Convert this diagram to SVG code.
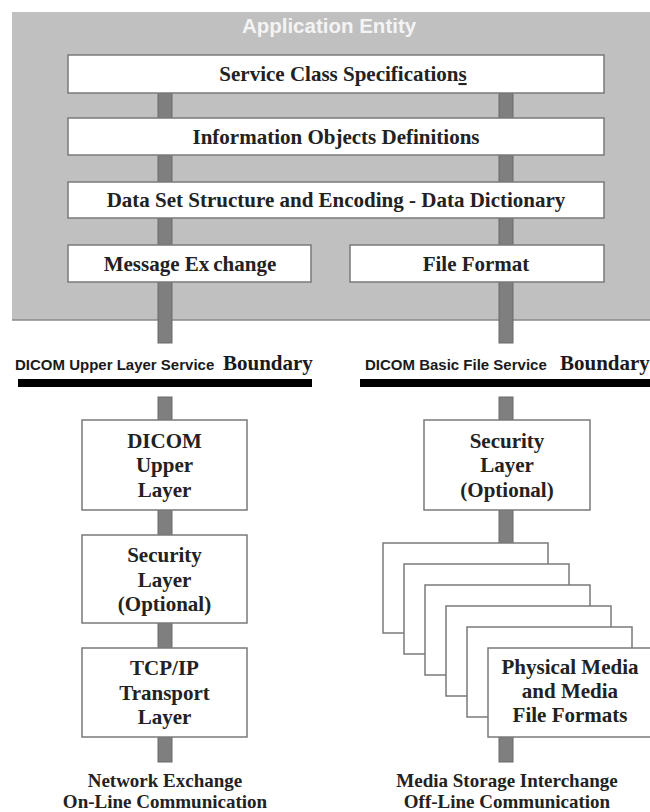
<svg xmlns="http://www.w3.org/2000/svg" width="650" height="812" viewBox="0 0 650 812">
<style>
.bg{fill:#c0c0c0}
.box{fill:#ffffff;stroke:#7a7a7a;stroke-width:1.5}
.bar{fill:#7f7f7f;stroke:#6a6a6a;stroke-width:1}
.t{font-family:"Liberation Serif","Times New Roman",serif;font-weight:bold;font-size:21px;fill:#222;text-anchor:middle}
.b{font-family:"Liberation Serif","Times New Roman",serif;font-weight:bold;font-size:19px;fill:#222;text-anchor:middle}
.s{font-family:"Liberation Sans",Arial,sans-serif;font-weight:bold;font-size:15px;fill:#1a1a1a}
.bd{font-family:"Liberation Serif","Times New Roman",serif;font-weight:bold;font-size:21px;fill:#1a1a1a}
.ae{font-family:"Liberation Sans",Arial,sans-serif;font-weight:bold;font-size:20.5px;fill:#f4f4f4;text-anchor:middle}
.line{fill:#000}
</style>
<rect width="650" height="812" fill="#ffffff"/>
<g id="application-entity">
<rect class="bg" x="12" y="12" width="638" height="308"/>
<line x1="12" y1="320" x2="650" y2="320" stroke="#8a8a8a" stroke-width="1.5"/>
<text class="ae" x="329" y="33">Application Entity</text>
</g>
<g id="connectors">
<rect class="bar" x="158" y="93" width="14" height="250"/>
<rect class="bar" x="499" y="93" width="14" height="250"/>
<rect class="bar" x="158" y="397" width="14" height="365"/>
<rect class="bar" x="499" y="397" width="14" height="365"/>
</g>
<g id="service-class">
<rect class="box" x="68" y="55" width="536" height="38"/>
<text class="t" x="343" y="81">Service Class Specification<tspan text-decoration="underline">s</tspan></text>
</g>
<g id="information-objects">
<rect class="box" x="68" y="118" width="536" height="37"/>
<text class="t" x="336" y="143.5">Information Objects Definitions</text>
</g>
<g id="data-set">
<rect class="box" x="68" y="182" width="536" height="36"/>
<text class="t" x="336" y="207">Data Set Structure and Encoding - Data Dictionary</text>
</g>
<g id="message-exchange">
<rect class="box" x="68" y="245" width="243" height="37"/>
<text class="t" x="190" y="270.5">Message Ex<tspan dx="4">change</tspan></text>
</g>
<g id="file-format">
<rect class="box" x="350" y="245" width="254" height="37"/>
<text class="t" x="476" y="270.5">File Format</text>
</g>
<g id="upper-layer-boundary">
<text x="15" y="370"><tspan class="s">DICOM Upper Layer Service</tspan><tspan class="bd" x="223">Boundary</tspan></text>
<rect class="line" x="18" y="379" width="294" height="8"/>
</g>
<g id="file-service-boundary">
<text x="365" y="370"><tspan class="s">DICOM Basic File Service</tspan><tspan class="bd" x="560">Boundary</tspan></text>
<rect class="line" x="360" y="379" width="290" height="8"/>
</g>
<g id="dicom-upper-layer">
<rect class="box" x="82" y="420" width="165" height="90"/>
<text class="t" x="164.5" y="447.5">DICOM</text>
<text class="t" x="164.5" y="472">Upper</text>
<text class="t" x="164.5" y="496.5">Layer</text>
</g>
<g id="security-left">
<rect class="box" x="82" y="535" width="165" height="88"/>
<text class="t" x="164.5" y="562">Security</text>
<text class="t" x="164.5" y="586.5">Layer</text>
<text class="t" x="164.5" y="611">(Optional)</text>
</g>
<g id="tcp-ip">
<rect class="box" x="82" y="648" width="165" height="89"/>
<text class="t" x="164.5" y="675">TCP/IP</text>
<text class="t" x="164.5" y="699.5">Transport</text>
<text class="t" x="164.5" y="724">Layer</text>
</g>
<g id="network-exchange">
<text class="b" x="165" y="787">Network Exchange</text>
<text class="b" x="165" y="808">On-Line Communication</text>
</g>
<g id="security-right">
<rect class="box" x="424" y="420" width="166" height="90"/>
<text class="t" x="507" y="447.5">Security</text>
<text class="t" x="507" y="472">Layer</text>
<text class="t" x="507" y="496.5">(Optional)</text>
</g>
<g id="physical-media">
<rect class="box" x="383" y="543" width="165" height="90"/>
<rect class="box" x="404" y="564" width="165" height="90"/>
<rect class="box" x="425" y="585" width="165" height="90"/>
<rect class="box" x="446" y="606" width="165" height="90"/>
<rect class="box" x="467" y="627" width="165" height="90"/>
<rect class="box" x="488" y="648" width="165" height="89"/>
<text class="t" x="570" y="674">Physical Media</text>
<text class="t" x="570" y="698">and Media</text>
<text class="t" x="570" y="722">File Formats</text>
</g>
<g id="media-storage">
<text class="b" x="507" y="787">Media Storage Interchange</text>
<text class="b" x="507" y="808">Off-Line Communication</text>
</g>
</svg>
